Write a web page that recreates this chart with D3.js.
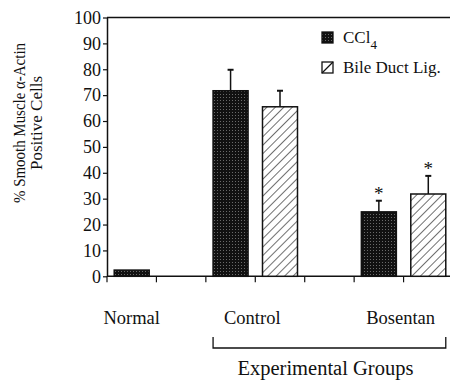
<!DOCTYPE html>
<html>
<head>
<meta charset="utf-8">
<script src="https://cdn.jsdelivr.net/npm/d3@7"></script>
<style>
  html, body { margin: 0; padding: 0; background: #fff; }
  svg text { font-family: "Liberation Serif", "Tinos", "DejaVu Serif", serif !important; }
</style>
</head>
<body>
<svg id="chart" width="450" height="380"></svg>
<script>
// ---- data ----
const groups = ["Normal", "Control", "Bosentan"];
const seriesNames = ["CCl4", "Bile Duct Lig."];
const slots = ["Normal|CCl4", "Normal|BDL", "Control|CCl4", "Control|BDL", "gap", "Bosentan|CCl4", "Bosentan|BDL"];
const ccl4Values = [2.4, 71.7, 24.9];
const ccl4Errors = [0, 8.1, 4.3];
const bdlValues = [0, 65.5, 31.8];
const bdlErrors = [0, 6.2, 7.0];
const significant = [false, false, true]; // asterisk for Bosentan
const yTicks = [0, 10, 20, 30, 40, 50, 60, 70, 80, 90, 100];
const xTitle = "Experimental Groups";
const yTitleLines = ["% Smooth Muscle \u03b1-Actin", "Positive Cells"];

// ---- layout ----
const svg = d3.select("#chart");
const mLeft = 107, mRight = 453, mTop = 17.5, mBottom = 276.3;

const pInner = 0.292;
const x = d3.scaleBand().domain(slots).range([mLeft, mRight])
  .paddingInner(pInner).paddingOuter(pInner / 2);
const y = d3.scaleLinear().domain([0, 100]).range([mBottom, mTop]);
const step = x.step();

// patterns
const defs = svg.append("defs");
const stip = defs.append("pattern").attr("id", "stipple")
  .attr("patternUnits", "userSpaceOnUse").attr("width", 3).attr("height", 3);
stip.append("rect").attr("width", 3).attr("height", 3).attr("fill", "#111");
stip.append("rect").attr("x", 1).attr("y", 1).attr("width", 1).attr("height", 1).attr("fill", "#6a6a6a");

const hatch = defs.append("pattern").attr("id", "hatch")
  .attr("patternUnits", "userSpaceOnUse").attr("width", 6).attr("height", 6)
  .attr("patternTransform", "rotate(45)");
hatch.append("rect").attr("width", 6).attr("height", 6).attr("fill", "#fff");
hatch.append("line").attr("x1", 0).attr("y1", 0).attr("x2", 0).attr("y2", 6)
  .attr("stroke", "#222").attr("stroke-width", 1.3);

// frame top line
svg.append("line").attr("x1", mLeft).attr("x2", 450).attr("y1", mTop).attr("y2", mTop)
  .attr("stroke", "#111").attr("stroke-width", 1.5);

// y axis
const yAxis = d3.axisLeft(y).tickValues(yTicks).tickSize(4).tickPadding(2).tickSizeOuter(0);
const yg = svg.append("g").attr("transform", `translate(${mLeft},0)`).call(yAxis);
yg.attr("font-family", null);
yg.select(".domain").attr("stroke", "#111").attr("stroke-width", 1.5);
yg.selectAll(".tick line").attr("stroke", "#111").attr("stroke-width", 1.2);
yg.selectAll(".tick text").attr("font-size", 18).attr("fill", "#111");

// x axis baseline
svg.append("line").attr("x1", mLeft).attr("x2", 450).attr("y1", mBottom).attr("y2", mBottom)
  .attr("stroke", "#111").attr("stroke-width", 1.5);
// x ticks at slot boundaries
slots.forEach(s => {
  const tx = x(s) - step * pInner / 2;
  svg.append("line").attr("x1", tx).attr("x2", tx).attr("y1", mBottom).attr("y2", mBottom + 6)
    .attr("stroke", "#111").attr("stroke-width", 1.2);
});

// bars
const barData = [];
groups.forEach((g, i) => {
  barData.push({ slot: g + "|CCl4", v: ccl4Values[i], e: ccl4Errors[i], fill: "url(#stipple)", sig: significant[i] });
  barData.push({ slot: g + "|BDL", v: bdlValues[i], e: bdlErrors[i], fill: "url(#hatch)", sig: significant[i] });
});
const shown = barData.filter(d => d.v > 0);

svg.selectAll("rect.bar").data(shown).join("rect").attr("class", "bar")
  .attr("x", d => x(d.slot)).attr("width", x.bandwidth())
  .attr("y", d => y(d.v)).attr("height", d => y(0) - y(d.v))
  .attr("fill", d => d.fill).attr("stroke", "#111").attr("stroke-width", 1.5);

// error bars (upward only)
const eb = shown.filter(d => d.e > 0);
svg.selectAll("line.err").data(eb).join("line").attr("class", "err")
  .attr("x1", d => x(d.slot) + x.bandwidth() / 2).attr("x2", d => x(d.slot) + x.bandwidth() / 2)
  .attr("y1", d => y(d.v)).attr("y2", d => y(d.v + d.e))
  .attr("stroke", "#111").attr("stroke-width", 1.5);
svg.selectAll("line.cap").data(eb).join("line").attr("class", "cap")
  .attr("x1", d => x(d.slot) + x.bandwidth() / 2 - 3).attr("x2", d => x(d.slot) + x.bandwidth() / 2 + 3)
  .attr("y1", d => y(d.v + d.e)).attr("y2", d => y(d.v + d.e))
  .attr("stroke", "#111").attr("stroke-width", 2);
svg.selectAll("text.sig").data(eb.filter(d => d.sig)).join("text").attr("class", "sig")
  .attr("x", d => x(d.slot) + x.bandwidth() / 2).attr("y", d => y(d.v + d.e) - 1)
  .attr("text-anchor", "middle").attr("font-size", 19).attr("fill", "#111").text("*");

// group labels
const labelX = g => g === "Normal"
  ? x(g + "|CCl4") + x.bandwidth() / 2
  : (x(g + "|CCl4") + x(g + "|BDL") + x.bandwidth()) / 2 - 3;
svg.selectAll("text.grp").data(groups).join("text").attr("class", "grp")
  .attr("x", d => labelX(d)).attr("y", 324)
  .attr("text-anchor", "middle").attr("font-size", 18.5).attr("fill", "#111").text(d => d);

// bracket for experimental groups
const bx1 = x("Control|CCl4"), bx2 = x("Bosentan|BDL") + x.bandwidth();
svg.append("path").attr("d", `M${bx1},337V348H${bx2}V337`)
  .attr("fill", "none").attr("stroke", "#111").attr("stroke-width", 1.3);
svg.append("text").attr("x", (bx1 + bx2) / 2 - 4).attr("y", 375)
  .attr("text-anchor", "middle").attr("font-size", 20.5).attr("fill", "#111").text(xTitle);

// y title
const yt = svg.append("text").attr("transform", "translate(25,123) rotate(-90)")
  .attr("text-anchor", "middle").attr("font-size", 17).attr("fill", "#111");
yt.append("tspan").attr("x", 0).attr("dy", 0)
  .attr("textLength", 160).attr("lengthAdjust", "spacingAndGlyphs").text(yTitleLines[0]);
yt.append("tspan").attr("x", 0).attr("dy", 17).text(yTitleLines[1]);

// legend
const lg = svg.append("g");
const legendRows = [
  { fill: "url(#stipple)", y: 32 },
  { fill: "#fff", y: 62, hatchLine: true }
];
legendRows.forEach(r => {
  lg.append("rect").attr("x", 322).attr("y", r.y).attr("width", 11).attr("height", 11)
    .attr("fill", r.fill).attr("stroke", "#111").attr("stroke-width", 1.3);
  if (r.hatchLine) {
    lg.append("line").attr("x1", 322).attr("y1", r.y + 11).attr("x2", 333).attr("y2", r.y)
      .attr("stroke", "#111").attr("stroke-width", 1.2);
  }
});
const t1 = lg.append("text").attr("x", 343).attr("y", 43).attr("font-size", 17).attr("fill", "#111");
t1.append("tspan").text("CCl");
t1.append("tspan").attr("font-size", 13).attr("dy", 6).text("4");
lg.append("text").attr("x", 343).attr("y", 73).attr("font-size", 17).attr("fill", "#111").text(seriesNames[1]);
</script>
</body>
</html>
